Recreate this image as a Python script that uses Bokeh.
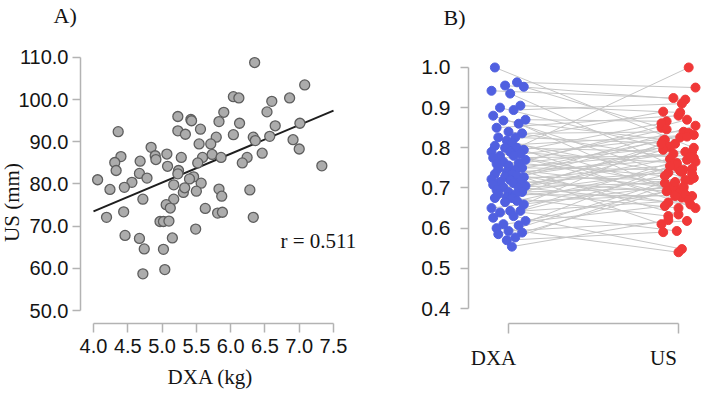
import numpy as np
from bokeh.plotting import figure
from bokeh.layouts import row
from bokeh.models import FixedTicker, Label, Range1d, NumeralTickFormatter
from bokeh.embed import file_html
from bokeh.resources import INLINE

# ---------------- Panel A: DXA (kg) vs US (mm) ----------------
dxa_kg = [6.35, 7.08, 6.04, 6.12, 6.60, 6.86, 4.36, 5.23, 5.42, 5.43,
          5.23, 5.34, 5.56, 5.90, 5.83, 6.13, 6.53, 6.65, 7.01, 6.91,
          7.00, 7.33, 6.57, 6.33, 6.36, 6.04, 5.79, 5.71, 5.54, 5.73,
          5.86, 5.59, 6.24, 6.17, 6.46, 5.52, 5.28, 5.07, 5.08, 5.24,
          5.23, 4.84, 4.90, 4.91, 4.40, 4.31, 4.33, 4.68, 4.67, 4.78,
          4.56, 4.45, 4.24, 4.06, 5.46, 5.40, 5.17, 5.57, 6.28, 5.83,
          5.87, 5.31, 5.33, 5.50, 4.72, 5.17, 5.06, 5.12, 5.63, 5.81,
          5.88, 6.33, 4.19, 4.44, 4.97, 5.02, 5.10, 4.46, 4.67, 4.74,
          5.15, 5.49, 5.02, 4.72, 5.04]
us_mm = [108.8, 103.5, 100.7, 100.4, 99.6, 100.4, 92.4, 96.0, 95.3, 95.0,
         92.6, 91.8, 93.0, 97.0, 94.8, 94.4, 97.1, 93.8, 94.4, 90.5,
         88.3, 84.3, 91.3, 91.1, 90.3, 91.7, 91.1, 89.5, 89.5, 87.0,
         86.3, 86.3, 86.3, 85.0, 87.3, 85.0, 86.3, 87.1, 84.2, 83.2,
         82.4, 88.7, 86.7, 85.8, 86.5, 85.1, 83.2, 85.4, 82.5, 81.4,
         80.4, 79.2, 78.7, 81.0, 81.7, 81.2, 79.8, 80.2, 78.6, 78.8,
         77.1, 78.0, 79.1, 78.3, 76.4, 76.4, 75.1, 74.3, 74.2, 73.1,
         73.3, 72.1, 72.1, 73.4, 71.1, 71.1, 71.2, 67.8, 67.1, 64.6,
         67.2, 69.3, 64.5, 58.7, 59.7]
fit_x = [4.0, 7.5]
fit_y = [73.5, 97.4]
r_text = "r = 0.511"
a_xticks = [4.0, 4.5, 5.0, 5.5, 6.0, 6.5, 7.0, 7.5]
a_yticks = [50, 60, 70, 80, 90, 100, 110]

# ---------------- Panel B: paired ratios ----------------
dxa_ratio = [1.000, 0.963, 0.955, 0.952, 0.942, 0.935, 0.905, 0.900, 0.894, 0.880,
             0.870, 0.868, 0.860, 0.850, 0.840, 0.836, 0.826, 0.826, 0.818, 0.812,
             0.805, 0.800, 0.800, 0.795, 0.790, 0.790, 0.785, 0.780, 0.780, 0.775,
             0.770, 0.765, 0.762, 0.760, 0.756, 0.750, 0.748, 0.745, 0.740, 0.735,
             0.735, 0.730, 0.728, 0.727, 0.722, 0.720, 0.716, 0.715, 0.712, 0.708,
             0.705, 0.702, 0.700, 0.695, 0.690, 0.690, 0.685, 0.684, 0.677, 0.675,
             0.675, 0.668, 0.665, 0.659, 0.650, 0.643, 0.643, 0.639, 0.630, 0.626,
             0.618, 0.610, 0.607, 0.600, 0.593, 0.589, 0.585, 0.577, 0.570, 0.554]
us_ratio = [0.800, 0.950, 0.920, 0.850, 0.924, 0.752, 0.888, 0.785, 0.910, 0.720,
            0.866, 0.820, 0.695, 0.880, 0.770, 0.840, 0.680, 0.810, 0.890, 0.738,
            0.832, 0.650, 0.790, 0.861, 0.707, 0.762, 0.826, 1.000, 0.676, 0.780,
            0.846, 0.730, 0.802, 0.634, 0.870, 0.745, 0.790, 0.700, 0.818, 0.664,
            0.775, 0.855, 0.720, 0.610, 0.785, 0.758, 0.690, 0.837, 0.740, 0.659,
            0.805, 0.712, 0.772, 0.650, 0.828, 0.700, 0.748, 0.680, 0.795, 0.630,
            0.725, 0.765, 0.684, 0.810, 0.705, 0.593, 0.742, 0.670, 0.548, 0.778,
            0.692, 0.655, 0.755, 0.540, 0.618, 0.704, 0.735, 0.715, 0.590, 0.620]
groups = ["DXA", "US"]
group_pos = [1, 2]
b_yticks = [0.4, 0.5, 0.6, 0.7, 0.8, 0.9, 1.0]
# horizontal spread of the dots around each group position
spread = [-0.08, 0.05, -0.02, 0.09, -0.10, 0.01, 0.07, -0.05, 0.03, -0.09,
          0.10, -0.03, 0.06, -0.07, 0.00, 0.08, -0.06, 0.04, -0.01, 0.02]

SANS = "Liberation Sans"
SERIF = "Liberation Serif"
AXIS_GREY = "#b3b3b3"
TEXT = "#141414"


def style_axis(ax, ticks, bounds, where, size, standoff, tick_out=8):
    ax.ticker = FixedTicker(ticks=ticks)
    ax.bounds = bounds
    ax.fixed_location = where
    ax.axis_line_color = AXIS_GREY
    ax.axis_line_width = 1.5
    ax.major_tick_line_color = AXIS_GREY
    ax.major_tick_line_width = 1.5
    ax.major_tick_in = 0
    ax.major_tick_out = tick_out
    ax.minor_tick_line_color = None
    ax.major_label_text_font = SANS
    ax.major_label_text_font_size = size
    ax.major_label_text_color = TEXT
    ax.major_label_standoff = standoff


def base_figure(width, x_range, y_range):
    # the frame fills the whole canvas; axes sit at fixed data locations
    p = figure(width=width, height=393, x_range=x_range, y_range=y_range,
               output_backend="svg", toolbar_location=None, min_border=0)
    p.outline_line_color = None
    p.xgrid.grid_line_color = None
    p.ygrid.grid_line_color = None
    p.background_fill_color = "white"
    p.border_fill_color = "white"
    return p


def text(p, x, y, s, size="21px", align="left", angle=0.0):
    p.add_layout(Label(x=x, y=y, text=s, text_font=SERIF, text_font_size=size,
                       text_align=align, text_baseline="middle", angle=angle,
                       text_color=TEXT))


# ---------- Panel A ----------
pA = base_figure(380, Range1d(2.6437, 8.1854), Range1d(30.32, 123.51))
pA.line(fit_x, fit_y, line_color="#1e1e1e", line_width=2)
pA.scatter(dxa_kg, us_mm, size=10, fill_color="#acacac", line_color="#5e5e5e",
           line_width=1.3)

style_axis(pA.xaxis[0], a_xticks, (a_xticks[0], a_xticks[-1]), 46.917,
           "20px", 6, tick_out=9)
pA.xaxis.formatter = NumeralTickFormatter(format="0.0")
style_axis(pA.yaxis[0], a_yticks, (a_yticks[0], a_yticks[-1]), 3.8104,
           "20px", 4)
pA.yaxis.formatter = NumeralTickFormatter(format="0.0")

text(pA, 3.4167, 119.96, "A)", size="22px")
text(pA, 6.727, 66.6, r_text)
text(pA, 5.706, 34.35, "DXA (kg)", align="center")
text(pA, 2.8187, 75.61, "US (mm)", align="center", angle=np.pi / 2)

# ---------- Panel B ----------
n = len(dxa_ratio)
x_dxa = [group_pos[0] + spread[i % 20] for i in range(n)]
x_us = [group_pos[1] + spread[(i * 7 + 3) % 20] for i in range(n)]

pB = base_figure(329, Range1d(0.24706, 2.18235), Range1d(0.18840, 1.16674))
pB.segment(x0=x_dxa, y0=dxa_ratio, x1=x_us, y1=us_ratio,
           line_color="#c6c6c6", line_width=1)
pB.scatter(x_dxa, dxa_ratio, size=9, fill_color="#5060e0", line_color="#5060e0")
pB.scatter(x_us, us_ratio, size=9, fill_color="#f03838", line_color="#f03838")

style_axis(pB.xaxis[0], group_pos, (group_pos[0], group_pos[1]), 0.36266,
           "0px", 0, tick_out=10)
pB.xaxis.major_label_overrides = {1: "", 2: ""}
style_axis(pB.yaxis[0], b_yticks, (b_yticks[0], b_yticks[-1]), 0.76471,
           "21px", 10)
pB.yaxis.formatter = NumeralTickFormatter(format="0.0")

text(pB, 0.6176, 1.12447, "B)", size="22px")
# group names sit slightly left of their tick marks
for pos, name in zip(group_pos, groups):
    text(pB, pos - 0.088, 0.27553, name, align="center")

layout = row(pA, pB)
open("out.html", "w").write(file_html(layout, INLINE))
